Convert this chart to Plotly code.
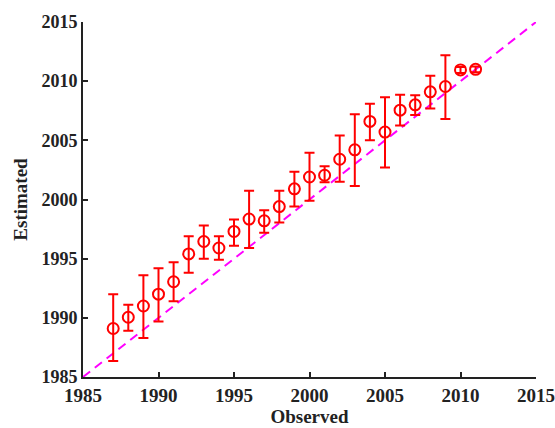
import plotly.graph_objects as go

observed = [1987, 1988, 1989, 1990, 1991, 1992, 1993, 1994, 1995, 1996, 1997, 1998, 1999,
            2000, 2001, 2002, 2003, 2004, 2005, 2006, 2007, 2008, 2009, 2010, 2011]
estimated = [1989.1, 1990.05, 1991.0, 1992.0, 1993.05, 1995.4, 1996.45, 1995.9, 1997.3, 1998.35,
             1998.2, 1999.4, 2000.9, 2001.9, 2002.05, 2003.4, 2004.2, 2006.6, 2005.7, 2007.55,
             2008.0, 2009.1, 2009.55, 2010.95, 2011.0]
upper = [1992.0, 1991.1, 1993.6, 1994.2, 1994.7, 1996.9, 1997.8, 1996.9, 1998.3, 2000.75,
         1999.1, 2000.75, 2002.35, 2003.95, 2002.8, 2005.4, 2007.2, 2008.1, 2008.65, 2008.85,
         2008.8, 2010.45, 2012.2, 2011.2, 2011.25]
lower = [1986.35, 1988.9, 1988.3, 1989.7, 1991.4, 1993.8, 1995.0, 1994.9, 1996.1, 1995.9,
         1997.2, 1998.05, 1999.4, 1999.9, 2001.45, 2001.5, 2001.15, 2005.0, 2002.7, 2006.25,
         2007.15, 2007.7, 2006.8, 2010.7, 2010.75]
ref_line = [1985, 2015]
ticks = [1985, 1990, 1995, 2000, 2005, 2010, 2015]

err_plus = [u - e for u, e in zip(upper, estimated)]
err_minus = [e - l for e, l in zip(estimated, lower)]

font = "Liberation Serif, Times New Roman, serif"

fig = go.Figure()
fig.add_trace(go.Scatter(
    x=ref_line, y=ref_line, mode="lines",
    line=dict(color="#ff00ff", width=2, dash="9px,6px"),
    showlegend=False, hoverinfo="skip"))
fig.add_trace(go.Scatter(
    x=observed, y=estimated, mode="markers",
    marker=dict(symbol="circle-open", size=11, color="red", line=dict(width=2, color="red")),
    error_y=dict(type="data", symmetric=False, array=err_plus, arrayminus=err_minus,
                 color="red", thickness=2, width=5),
    showlegend=False))

axis_common = dict(
    range=[1985, 2015], tickvals=ticks, ticktext=["<b>%d</b>" % t for t in ticks],
    showline=True, linecolor="#222", linewidth=2, mirror=False,
    ticks="inside", ticklen=5, tickwidth=2, tickcolor="#222",
    showgrid=False, zeroline=False, automargin=False,
)

fig.update_layout(
    width=555, height=428,
    margin=dict(l=83, r=19, t=22, b=51),
    paper_bgcolor="white", plot_bgcolor="white",
    font=dict(family=font, color="#222"),
    xaxis=dict(**axis_common,
               tickfont=dict(family=font, size=19, color="#222"),
               title=dict(text="<b>Observed</b>", font=dict(family=font, size=19, color="#222"), standoff=5)),
    yaxis=dict(**axis_common,
               tickfont=dict(family=font, size=18, color="#222"),
               title=dict(text="<b>Estimated</b>", font=dict(family=font, size=19, color="#222"), standoff=9)),
)

fig.write_html("out.html")
